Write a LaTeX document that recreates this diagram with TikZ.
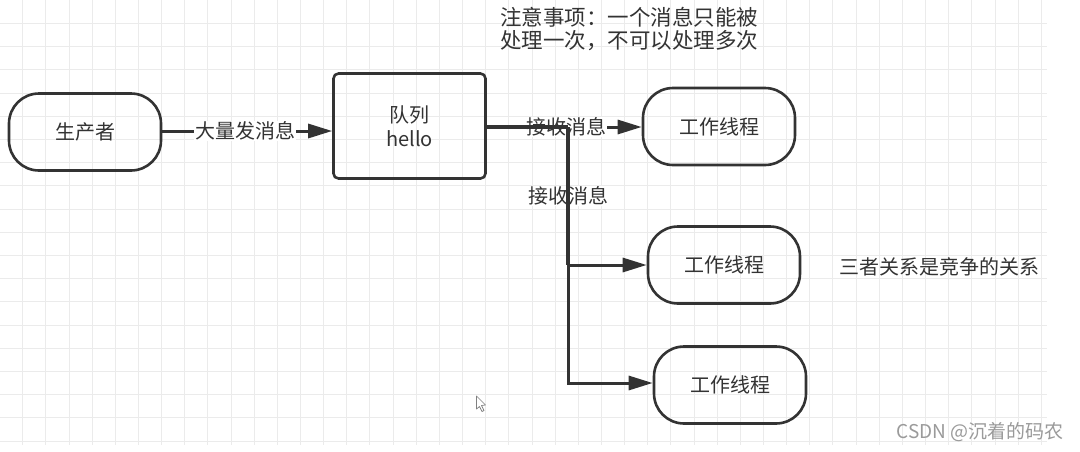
\documentclass[tikz,border=0pt]{standalone}
\usepackage{fontspec}
\setmainfont{Noto Sans CJK SC}
\usetikzlibrary{arrows.meta}
\definecolor{ink}{HTML}{333333}
\definecolor{gridc}{HTML}{EBEBEB}
\definecolor{wm}{HTML}{9A9A9A}
\tikzset{
  base/.style={draw=ink, line width=2.6pt, text=ink, font=\fontsize{20}{24}\selectfont, align=center},
  term/.style={base, rectangle, rounded corners=30pt, minimum width=152pt, minimum height=77pt},
  queuebox/.style={base, rectangle, rounded corners=5pt, minimum width=152pt, minimum height=105pt},
  conn/.style={draw=ink, line width=3pt},
  arr/.style={conn, -{Triangle[length=24pt,width=14pt]}},
  lab/.style={fill=white, text=ink, inner sep=1pt, font=\fontsize{20}{24}\selectfont},
  note/.style={text=ink, font=\fontsize{21.5}{24}\selectfont, align=left, inner sep=0pt},
}
\begin{document}
\begin{tikzpicture}[x=1pt,y=-1pt]
\useasboundingbox (0,0) rectangle (1080,451);
\fill[white] (0,0) rectangle (1080,451);
% grid
\foreach \i in {0,...,44} {
  \draw[gridc, line width=0.8pt] ({22.6+23.15*\i},0) -- ({22.6+23.15*\i},445);
}
\foreach \j in {0,...,18} {
  \draw[gridc, line width=0.8pt] (0,{23.3+23.2*\j}) -- (1047,{23.3+23.2*\j});
}
% nodes
\node[term] (prod) at (85,132) {生产者};
\node[queuebox] (queue) at (409.5,126) {队列\\hello};
\node[term] (w1) at (719,126.5) {工作线程};
\node[term] (w2) at (724,265) {工作线程};
\node[term] (w3) at (730,385) {工作线程};
\coordinate (j) at (568,127);
% connectors drawn below labels
\draw[arr] (prod.east |- 0,131) -- (queue.west |- 0,131);
\draw[arr] (j) -- (w1.west |- j);
\draw[arr] (j) |- (w2.west);
\draw[arr] (j) |- ([yshift=2pt]w3.west);
% labels
\node[lab] (l1) at (245,131) {大量发消息};
\node[lab] (l2) at (566,127) {接收消息};
\node[lab] (l3) at (568,196) {接收消息};
% thick lines drawn over labels
\draw[conn, line width=4pt] (queue.east |- j) -- (j);
\draw[conn, line width=4pt] (j) -- (j |- w2);
% free texts
\node[note, anchor=west] (n1) at (500,17) {注意事项：一个消息只能被};
\node[note, anchor=west] (n2) at (500,41) {处理一次，不可以处理多次};
\node[text=ink, font=\fontsize{20}{24}\selectfont, inner sep=0pt] (rel) at (939.5,267) {三者关系是竞争的关系};
\node[text=wm, font=\fontsize{19}{22}\selectfont, inner sep=0pt, anchor=east] (csdn) at (1064,432) {CSDN @沉着的码农};
% mouse cursor
\draw[gray, fill=white, line width=0.7pt, line join=round] (476.5,396) -- (476.5,409) -- (479.5,406.5) -- (482,411.5) -- (484,410.5) -- (481.5,405.5) -- (485.5,405) -- cycle;
\end{tikzpicture}
\end{document}
